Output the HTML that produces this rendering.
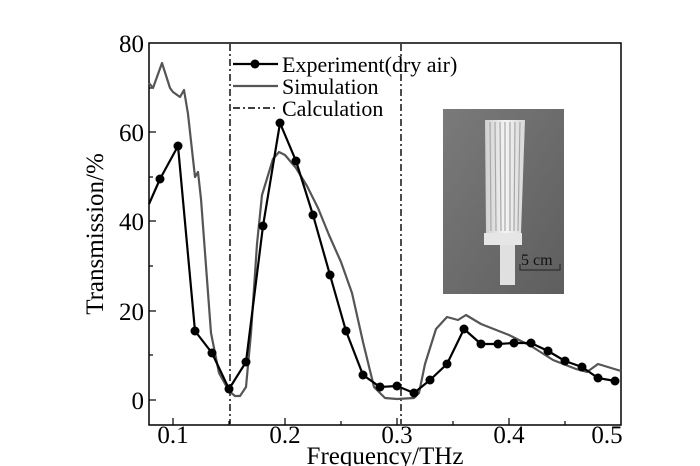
<!DOCTYPE html>
<html><head><meta charset="utf-8"><style>
html,body{margin:0;padding:0;background:#fff;}
svg{display:block;font-family:"Liberation Serif",serif;}
</style></head><body>
<svg width="700" height="466" viewBox="0 0 700 466" xmlns="http://www.w3.org/2000/svg">
<defs>
<linearGradient id="bg" x1="0" y1="0" x2="1" y2="1"><stop offset="0" stop-color="#7a7a7a"/><stop offset="1" stop-color="#5e5e5e"/></linearGradient>
<linearGradient id="wh" x1="0" y1="0" x2="1" y2="0"><stop offset="0" stop-color="#cfcfcf"/><stop offset="0.5" stop-color="#f4f4f4"/><stop offset="1" stop-color="#d8d8d8"/></linearGradient>
</defs>
<rect x="443" y="109" width="121" height="185" fill="url(#bg)"/>
<polygon points="485,120 525,120 521,233 486,233" fill="url(#wh)"/>
<g stroke="#a8a8a8" stroke-width="1.2">
<line x1="490" y1="122" x2="491" y2="231"/><line x1="495" y1="122" x2="496" y2="231"/>
<line x1="500" y1="122" x2="501" y2="231"/><line x1="505" y1="122" x2="505" y2="231"/>
<line x1="510" y1="122" x2="510" y2="231"/><line x1="515" y1="122" x2="514" y2="231"/>
<line x1="520" y1="122" x2="518" y2="231"/>
</g>
<rect x="484" y="233" width="38" height="12" fill="#e6e6e6"/>
<rect x="500" y="245" width="15" height="40" fill="#e0e0e0"/>
<polyline points="520,264 520,270 560,270 560,264" fill="none" stroke="#222" stroke-width="1"/>
<text x="521" y="265" font-size="16" fill="#111">5 cm</text>
<rect x="149" y="43" width="472" height="382" fill="none" stroke="#000" stroke-width="1.5"/>
<g stroke="#000" stroke-width="1.2">
<line x1="173" y1="425" x2="173" y2="418"/><line x1="229" y1="425" x2="229" y2="421"/>
<line x1="285" y1="425" x2="285" y2="418"/><line x1="341" y1="425" x2="341" y2="421"/>
<line x1="397" y1="425" x2="397" y2="418"/><line x1="453" y1="425" x2="453" y2="421"/>
<line x1="509" y1="425" x2="509" y2="418"/><line x1="565" y1="425" x2="565" y2="421"/>
<line x1="149" y1="400" x2="156" y2="400"/><line x1="149" y1="355" x2="153" y2="355"/>
<line x1="149" y1="311" x2="156" y2="311"/><line x1="149" y1="266" x2="153" y2="266"/>
<line x1="149" y1="221" x2="156" y2="221"/><line x1="149" y1="177" x2="153" y2="177"/>
<line x1="149" y1="132" x2="156" y2="132"/><line x1="149" y1="88" x2="153" y2="88"/>
</g>
<g font-size="25" fill="#000" text-anchor="end">
<text x="144" y="409">0</text><text x="144" y="320">20</text><text x="144" y="230">40</text>
<text x="144" y="141">60</text><text x="144" y="52">80</text>
</g>
<g font-size="25" fill="#000" text-anchor="middle">
<text x="173" y="443">0.1</text><text x="285" y="443">0.2</text><text x="397" y="443">0.3</text>
<text x="509" y="443">0.4</text><text x="607" y="443">0.5</text>
</g>
<text x="385" y="464" font-size="25" text-anchor="middle">Frequency/THz</text>
<text transform="translate(103,234) rotate(-90)" font-size="25" text-anchor="middle">Transmission/%</text>
<g stroke="#000" stroke-width="1.4" stroke-dasharray="7,3,2,3">
<line x1="230" y1="44" x2="230" y2="424"/><line x1="401" y1="44" x2="401" y2="424"/>
</g>
<polyline fill="none" stroke="#555" stroke-width="2.2" stroke-linejoin="round" points="149,83 153,88 162,63 170,88 173,92 180,97 184,90 188,114 195,177 198,172 201,199 206,266 211,333 219,373 229,391 235,396 240,396 246,387 251,333 257,244 262,195 273,159 279,152 285,155 296,168 307,186 318,208 329,235 341,262 352,293 363,342 374,387 385,398 397,399 414,398 419,393 425,364 436,329 447,317 458,320 466,315 481,324 509,335 531,346 553,360 576,369 587,372 598,364 621,371"/>
<polyline fill="none" stroke="#000" stroke-width="2.2" stroke-linejoin="round" points="149,204 160,179 178,146 195,331 212,353 229,389 246,362 263,226 280,123 296,161 313,215 330,275 346,331 363,375 380,387 397,386 414,393 430,380 447,364 464,329 481,344 498,344 514,343 531,343 548,351 565,361 582,367 598,378 615,381"/>
<g fill="#000">
<circle cx="160" cy="179" r="4.5"/><circle cx="178" cy="146" r="4.5"/><circle cx="195" cy="331" r="4.5"/>
<circle cx="212" cy="353" r="4.5"/><circle cx="229" cy="389" r="4.5"/><circle cx="246" cy="362" r="4.5"/>
<circle cx="263" cy="226" r="4.5"/><circle cx="280" cy="123" r="4.5"/><circle cx="296" cy="161" r="4.5"/>
<circle cx="313" cy="215" r="4.5"/><circle cx="330" cy="275" r="4.5"/><circle cx="346" cy="331" r="4.5"/>
<circle cx="363" cy="375" r="4.5"/><circle cx="380" cy="387" r="4.5"/><circle cx="397" cy="386" r="4.5"/>
<circle cx="414" cy="393" r="4.5"/><circle cx="430" cy="380" r="4.5"/><circle cx="447" cy="364" r="4.5"/>
<circle cx="464" cy="329" r="4.5"/><circle cx="481" cy="344" r="4.5"/><circle cx="498" cy="344" r="4.5"/>
<circle cx="514" cy="343" r="4.5"/><circle cx="531" cy="343" r="4.5"/><circle cx="548" cy="351" r="4.5"/>
<circle cx="565" cy="361" r="4.5"/><circle cx="582" cy="367" r="4.5"/><circle cx="598" cy="378" r="4.5"/>
<circle cx="615" cy="381" r="4.5"/>
</g>
<line x1="233" y1="64" x2="278" y2="64" stroke="#000" stroke-width="2.2"/>
<circle cx="255" cy="64" r="4.5" fill="#000"/>
<line x1="233" y1="86" x2="278" y2="86" stroke="#555" stroke-width="2.2"/>
<line x1="233" y1="108" x2="278" y2="108" stroke="#000" stroke-width="1.4" stroke-dasharray="7,3,2,3"/>
<g font-size="22" fill="#000">
<text x="282" y="72">Experiment(dry air)</text>
<text x="282" y="94">Simulation</text>
<text x="282" y="116">Calculation</text>
</g>
</svg>
</body></html>
